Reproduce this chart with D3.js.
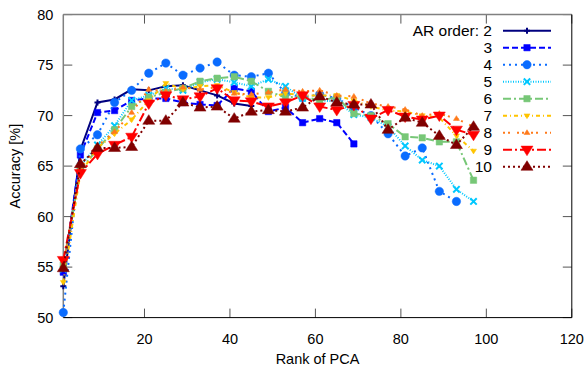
<!DOCTYPE html>
<html>
<head>
<meta charset="utf-8">
<script src="https://cdn.jsdelivr.net/npm/d3@7/dist/d3.min.js"></script>
<style>
  body { margin: 0; background: #fff; }
  text { font-family: "Liberation Sans", Arial, sans-serif; }
</style>
</head>
<body>
<svg id="chart" width="584" height="372"></svg>
<script>
const ranks = [1, 5, 9, 13, 17, 21, 25, 29, 33, 37, 41, 45, 49, 53, 57, 61, 65, 69, 73, 77, 81, 85, 89, 93, 97]
const orders = [2, 3, 4, 5, 6, 7, 8, 9, 10]

const acc2 = [53.1, 66.6, 71.3, 71.6, 72.6, 72.5, 72.9, 73.0, 72.5, 72.0, 71.2, 70.95]
const acc3 = [54.5, 66.1, 70.3, 70.5, 71.5, 71.7, 71.7, 71.3, 71.1, 71.0, 72.7, 72.4, 70.4, 70.8, 69.3, 69.7, 69.3, 67.2]
const acc4 = [50.5, 66.7, 68.1, 71.3, 72.5, 74.2, 75.2, 74.0, 74.7, 75.3, 74.0, 73.85, 74.2, 72.2, 71.8, 72.1, 71.7, 70.8, 70.0, 68.2, 66.0, 66.8, 62.5, 61.5]
const acc5 = [54.8, 65.0, 67.1, 69.0, 71.5, 72.0, 72.7, 72.5, 73.3, 73.6, 73.3, 72.9, 73.6, 72.9, 71.7, 71.5, 71.4, 70.1, 69.8, 68.9, 67.0, 65.6, 65.0, 62.7, 61.5]
const acc6 = [55.2, 64.6, 66.7, 68.6, 70.9, 71.8, 72.3, 72.7, 73.4, 73.7, 73.85, 73.4, 72.4, 71.8, 71.9, 71.5, 71.8, 70.2, 70.0, 69.2, 67.9, 67.8, 67.4, 67.4, 63.6]
const acc7 = [53.5, 64.3, 66.8, 68.2, 69.6, 71.5, 73.2, 72.6, 72.9, 73.0, 72.3, 71.8, 71.8, 72.2, 72.0, 72.0, 72.0, 71.5, 70.9, 70.5, 70.4, 70.0, 69.8, 68.0, 66.5]
const acc8 = [55.2, 64.8, 67.0, 68.4, 70.3, 72.6, 72.4, 72.8, 72.6, 72.8, 72.2, 72.1, 72.3, 72.6, 72.4, 72.5, 72.0, 71.9, 71.2, 70.9, 70.6, 70.0, 70.2, 69.7, 68.9]
const acc9 = [55.7, 64.3, 66.2, 67.1, 67.9, 71.2, 72.0, 71.6, 71.9, 72.7, 71.5, 71.4, 70.9, 71.3, 72.0, 70.9, 70.55, 71.05, 69.7, 70.55, 69.9, 69.6, 70.0, 68.6, 68.1]
const acc10 = [54.9, 65.2, 66.8, 66.8, 66.9, 69.5, 69.5, 71.3, 70.8, 70.9, 69.7, 70.4, 70.55, 70.4, 70.8, 71.9, 71.3, 71.1, 71.1, 68.6, 69.8, 69.3, 68.0, 67.1, 68.9]

const xTicks = [20, 40, 60, 80, 100, 120]
const yTicks = [50, 55, 60, 65, 70, 75, 80]

const allAcc = [acc2, acc3, acc4, acc5, acc6, acc7, acc8, acc9, acc10]
const styles = [
  { color: '#00007f', dash: null, marker: 'plus', size: 3 },
  { color: '#0000ff', dash: '6,3', marker: 'square', size: 3.2 },
  { color: '#0a6cff', dash: '2,4', marker: 'circle', size: 4.2 },
  { color: '#00c8ff', dash: '1,1.5', marker: 'times', size: 3.2 },
  { color: '#77c777', dash: '8,3,2,3', marker: 'square', size: 3.2 },
  { color: '#ffc400', dash: '4,3,1,3', marker: 'tridown', size: 3 },
  { color: '#ff7a1a', dash: '2,3,2,7', marker: 'triup', size: 3 },
  { color: '#ff0000', dash: '9,3,2,3', marker: 'tridown', size: 6 },
  { color: '#800000', dash: '2,3', marker: 'triup', size: 6 },
]

const series = orders.map((o, i) => ({
  order: o,
  style: styles[i],
  points: allAcc[i].map((v, j) => ({ rank: ranks[j], acc: v }))
}))

const margin = { left: 63.3, right: 12.2, top: 14.6, bottom: 54.4 }
const W = 584, H = 372
const svg = d3.select('#chart')

const x = d3.scaleLinear().domain([1, 120]).range([margin.left, W - margin.right])
const y = d3.scaleLinear().domain([50, 80]).range([H - margin.bottom, margin.top])

const markerPath = (type, s) => {
  if (type === 'plus') return `M${-s},0H${s}M0,${-s}V${s}`
  if (type === 'times') return `M${-s},${-s}L${s},${s}M${-s},${s}L${s},${-s}`
  if (type === 'square') return `M${-s},${-s}H${s}V${s}H${-s}Z`
  if (type === 'circle') return d3.arc()({ innerRadius: 0, outerRadius: s, startAngle: 0, endAngle: 2 * Math.PI })
  const h = s * 0.87
  if (type === 'triup') return `M0,${-s}L${h * 1.15},${s * 0.6}L${-h * 1.15},${s * 0.6}Z`
  return `M0,${s}L${h * 1.15},${-s * 0.6}L${-h * 1.15},${-s * 0.6}Z`
}

const drawMarker = (g, st, cx, cy) => {
  const stroked = st.marker === 'plus' || st.marker === 'times'
  g.append('path')
    .attr('transform', `translate(${cx},${cy})`)
    .attr('d', markerPath(st.marker, st.size))
    .attr('fill', stroked ? 'none' : st.color)
    .attr('stroke', st.color)
    .attr('stroke-width', stroked ? 2 : 0.5)
}

// ticks (inward, mirrored)
const axisG = svg.append('g')
const tickLen = 9
xTicks.forEach(t => {
  axisG.append('line').attr('x1', x(t)).attr('x2', x(t)).attr('y1', y(50)).attr('y2', y(50) - tickLen).attr('stroke', '#555')
  axisG.append('line').attr('x1', x(t)).attr('x2', x(t)).attr('y1', y(80)).attr('y2', y(80) + tickLen).attr('stroke', '#555')
  axisG.append('text').attr('x', x(t)).attr('y', y(50) + 26).attr('text-anchor', 'middle')
    .attr('font-size', 14.5).text(t)
})
yTicks.forEach(t => {
  axisG.append('line').attr('x1', x(1)).attr('x2', x(1) + tickLen).attr('y1', y(t)).attr('y2', y(t)).attr('stroke', '#555')
  axisG.append('line').attr('x1', x(120)).attr('x2', x(120) - tickLen).attr('y1', y(t)).attr('y2', y(t)).attr('stroke', '#555')
  axisG.append('text').attr('x', x(1) - 10).attr('y', y(t) + 5).attr('text-anchor', 'end')
    .attr('font-size', 14.5).text(t)
})

// border
svg.append('line').attr('x1', x(1)).attr('x2', x(1)).attr('y1', y(50)).attr('y2', y(80)).attr('stroke', '#808080').attr('stroke-width', 1.5)
svg.append('line').attr('x1', x(1)).attr('x2', x(120)).attr('y1', y(80)).attr('y2', y(80)).attr('stroke', '#808080').attr('stroke-width', 1.5)
svg.append('line').attr('x1', x(1)).attr('x2', x(120)).attr('y1', y(50)).attr('y2', y(50)).attr('stroke', '#000')
svg.append('line').attr('x1', x(120)).attr('x2', x(120)).attr('y1', y(50)).attr('y2', y(80)).attr('stroke', '#000')

svg.append('text').attr('x', (x(1) + x(120)) / 2).attr('y', 364).attr('text-anchor', 'middle')
  .attr('font-size', 14.5).text('Rank of PCA')
svg.append('text').attr('transform', `translate(20,${(y(50) + y(80)) / 2}) rotate(-90)`)
  .attr('text-anchor', 'middle').attr('font-size', 14.5).text('Accuracy [%]')

// series
const line = d3.line().x(d => x(d.rank)).y(d => y(d.acc))
const plot = svg.append('g')
series.forEach(s => {
  const g = plot.append('g')
  g.append('path')
    .attr('d', line(s.points))
    .attr('fill', 'none')
    .attr('stroke', s.style.color)
    .attr('stroke-width', 2)
    .attr('stroke-dasharray', s.style.dash)
  s.points.forEach(p => drawMarker(g, s.style, x(p.rank), y(p.acc)))
})

// legend
const legend = svg.append('g')
series.forEach((s, i) => {
  const ly = 30.7 + i * 17
  legend.append('text').attr('x', 492).attr('y', ly + 5.5).attr('text-anchor', 'end')
    .attr('font-size', 15.5).text(i === 0 ? 'AR order: ' + s.order : s.order)
  legend.append('line').attr('x1', 503).attr('x2', 551).attr('y1', ly).attr('y2', ly)
    .attr('stroke', s.style.color).attr('stroke-width', 2).attr('stroke-dasharray', s.style.dash)
  drawMarker(legend, s.style, 527, ly)
})
</script>
</body>
</html>
